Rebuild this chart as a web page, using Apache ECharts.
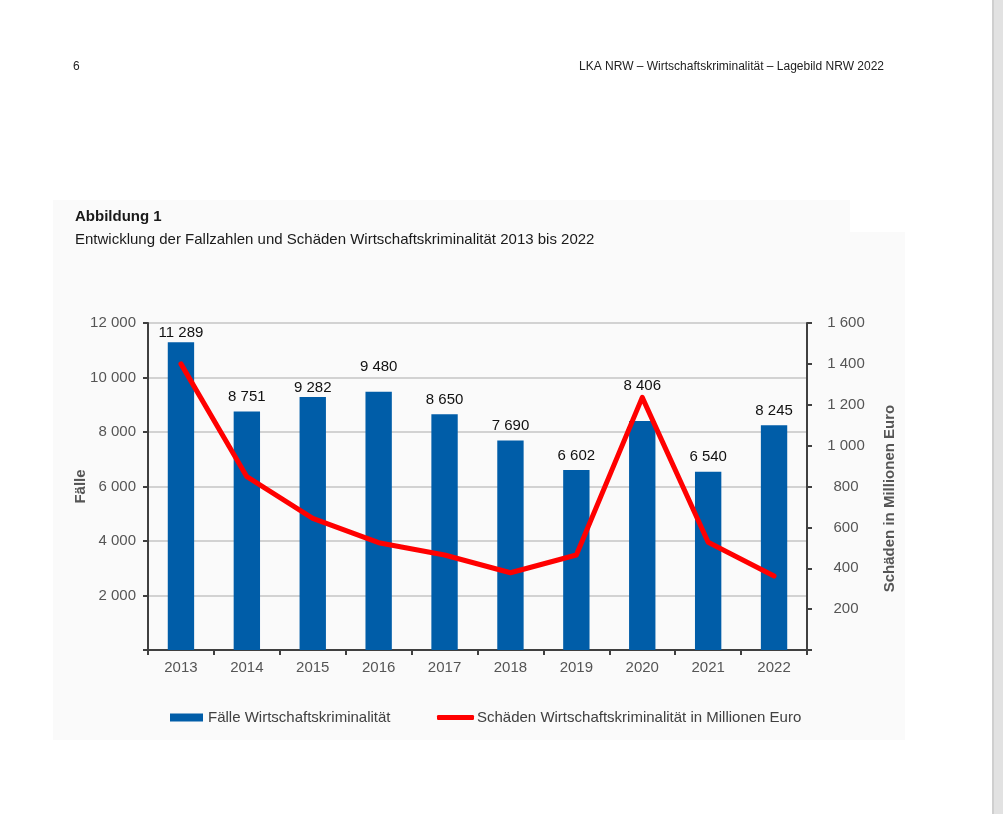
<!DOCTYPE html>
<html>
<head>
<meta charset="utf-8">
<script src="https://cdn.jsdelivr.net/npm/echarts@6/dist/echarts.min.js"></script>
<style>
html,body{margin:0;padding:0;background:#ffffff;}
#chart{width:1003px;height:814px;}
</style>
</head>
<body>
<div id="chart"></div>
<script>
var years = ['2013','2014','2015','2016','2017','2018','2019','2020','2021','2022'];
var faelle = [11289, 8751, 9282, 9480, 8650, 7690, 6602, 8406, 6540, 8245];
var schaeden = [1400, 848, 644, 525, 465, 378, 465, 1236, 527, 362];
var leftTicks = [0, 2000, 4000, 6000, 8000, 10000, 12000];
var rightTicks = [0, 200, 400, 600, 800, 1000, 1200, 1400, 1600];

var labelLift = [2, 7, 2, 17, 7, 7, 7, 28, 7, 7];

function fmt(v){
  if (v === 0) return '';
  return String(v).replace(/\B(?=(\d{3})+(?!\d))/g, ' ');
}

var chart = echarts.init(document.getElementById('chart'), null, {renderer:'canvas'});
var font = 'Liberation Sans, Arial, sans-serif';
var barName = 'Fälle Wirtschaftskriminalität';
var lineName = 'Schäden Wirtschaftskriminalität in Millionen Euro';

var option = {
  backgroundColor: '#ffffff',
  animation: false,
  textStyle: {fontFamily: font},
  graphic: [
    {type:'rect', shape:{x:53,y:200,width:797,height:32}, style:{fill:'#fafafa'}, z:-10, silent:true},
    {type:'rect', shape:{x:53,y:232,width:852,height:508}, style:{fill:'#fafafa'}, z:-10, silent:true},
    {type:'rect', shape:{x:992,y:0,width:11,height:814}, style:{fill:'#e2e2e2'}, z:-10, silent:true},
    {type:'rect', shape:{x:992,y:0,width:2,height:814}, style:{fill:'#cfcfcf'}, z:-9, silent:true},
    {type:'text', left:73, top:61, style:{text:'6', font:'12px ' + font, fill:'#222222'}},
    {type:'text', right:119, top:61, style:{text:'LKA NRW – Wirtschaftskriminalität – Lagebild NRW 2022', font:'12px ' + font, fill:'#222222', textAlign:'right'}}
  ],
  title: {
    text: 'Abbildung 1',
    subtext: 'Entwicklung der Fallzahlen und Schäden Wirtschaftskriminalität 2013 bis 2022',
    left: 70, top: 204,
    itemGap: 8,
    textStyle: {fontFamily: font, fontSize: 15, fontWeight: 'bold', color: '#1a1a1a'},
    subtextStyle: {fontFamily: font, fontSize: 15, color: '#1a1a1a'}
  },
  legend: [
    {
      left: 165, top: 705,
      itemWidth: 33,
      itemHeight: 8,
      textStyle: {fontFamily: font, fontSize: 15, color: '#404040'},
      data: [{name: barName, icon:'rect'}]
    },
    {
      left: 432, top: 705,
      itemWidth: 37,
      itemHeight: 5,
      textStyle: {fontFamily: font, fontSize: 15, color: '#404040', padding:[0,0,0,-2]},
      data: [{name: lineName, icon:'roundRect', itemStyle:{color:'#ff0000'}}]
    }
  ],
  grid: {left:148, right:196, top:323, bottom:164, containLabel:false},
  xAxis: {
    type: 'category',
    data: years,
    axisLine: {lineStyle:{color:'#404040', width:2}},
    axisTick: {show:true, length:5, lineStyle:{color:'#404040', width:2}},
    axisLabel: {fontFamily: font, fontSize: 15, color:'#555555', margin:10}
  },
  yAxis: [
    {
      type: 'value', min: leftTicks[0], max: leftTicks[leftTicks.length-1], interval: leftTicks[1]-leftTicks[0],
      name: 'Fälle', nameLocation: 'middle', nameGap: 60, nameRotate: 90, nameMoveOverlap: false,
      nameTextStyle: {fontFamily: font, fontSize: 15, fontWeight: 'bold', color:'#555555'},
      axisLine: {show:true, lineStyle:{color:'#404040', width:2}},
      axisTick: {show:true, length:5, lineStyle:{color:'#404040', width:2}},
      axisLabel: {fontFamily: font, fontSize: 15, color:'#555555', margin:12, formatter: fmt},
      splitLine: {show:true, lineStyle:{color:'#c4c4c4', width:1.5}}
    },
    {
      type: 'value', min: rightTicks[0], max: rightTicks[rightTicks.length-1], interval: rightTicks[1]-rightTicks[0],
      name: 'Schäden in Millionen Euro', nameLocation: 'middle', nameGap: 75, nameRotate: 90, nameMoveOverlap: false,
      nameTextStyle: {fontFamily: font, fontSize: 15, fontWeight: 'bold', color:'#555555', padding:[0,24,0,0]},
      axisLine: {show:true, lineStyle:{color:'#404040', width:2}},
      axisTick: {show:true, length:5, lineStyle:{color:'#404040', width:2}},
      axisLabel: {fontFamily: font, fontSize: 15, color:'#555555', margin:39, align:'center', formatter: fmt},
      splitLine: {show:false}
    }
  ],
  series: [
    {
      name: barName,
      type: 'bar',
      yAxisIndex: 0,
      barWidth: '40%',
      itemStyle: {color:'#005da8'},
      data: faelle.map(function(v, i){
        return {value: v, label: {distance: labelLift[i]}};
      }),
      label: {
        show: true, position: 'top',
        fontFamily: font, fontSize: 15, color: '#111111',
        formatter: function(p){ return fmt(p.value); }
      },
      z: 2
    },
    {
      name: lineName,
      type: 'line',
      yAxisIndex: 1,
      data: schaeden,
      showSymbol: false,
      symbol: 'none',
      lineStyle: {color:'#ff0000', width:5, cap:'round', join:'round'},
      itemStyle: {color:'#ff0000'},
      z: 3
    }
  ]
};
chart.setOption(option);
</script>
</body>
</html>
